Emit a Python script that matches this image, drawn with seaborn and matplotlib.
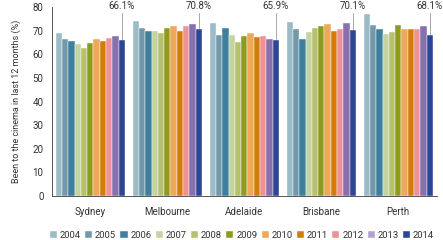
import pandas as pd
import matplotlib
matplotlib.use("Agg")
import matplotlib.pyplot as plt
import seaborn as sns

# data
cities = ["Sydney", "Melbourne", "Adelaide", "Brisbane", "Perth"]
years = ["2004", "2005", "2006", "2007", "2008", "2009", "2010", "2011", "2012", "2013", "2014"]
sydney = [69.0, 66.3, 65.8, 64.2, 62.6, 64.9, 66.4, 65.8, 66.8, 67.8, 66.1]
melbourne = [74.0, 71.0, 69.8, 70.0, 68.8, 71.2, 72.0, 70.0, 71.8, 72.8, 70.8]
adelaide = [73.2, 68.0, 71.2, 68.3, 65.0, 67.6, 68.8, 67.2, 67.8, 66.3, 65.9]
brisbane = [73.8, 70.6, 66.6, 69.4, 71.3, 71.9, 72.6, 69.8, 70.5, 73.4, 70.1]
perth = [77.0, 72.3, 70.6, 68.5, 69.3, 72.5, 70.5, 70.5, 70.5, 72.0, 68.1]
colors = ["#9bbcc6", "#7199ab", "#3e7f9e", "#c4d3a2", "#b7c06c", "#8e9b20",
          "#efa75a", "#d27c0e", "#ee9199", "#8670ae", "#2c4595"]
legend_2013 = "#b3a2cb"  # legend swatch for 2013 is lighter than its bars

rows = []
for city, vals in zip(cities, [sydney, melbourne, adelaide, brisbane, perth]):
    for yr, v in zip(years, vals):
        rows.append({"city": city, "year": yr, "pct": v})
df = pd.DataFrame(rows)

sns.set_theme(style="white")
plt.rcParams['font.family'] = ['Roboto', 'DejaVu Sans']

fig = plt.figure(figsize=(4.43, 2.40), dpi=100)
ax = fig.add_axes([0.117, 0.183, 0.869, 0.788])

sns.barplot(data=df, x="city", y="pct", hue="year", palette=colors,
            width=0.9, gap=0, dodge=True, errorbar=None, ax=ax,
            edgecolor="white", linewidth=0.3, saturation=1)

ax.set_ylim(0, 80)
ax.set_xlim(-0.5, 4.5)
ax.set_yticks(range(0, 81, 10))
ax.set_xlabel("")
ax.set_ylabel("Been to the cinema in last 12 months (%)", fontsize=6.5, color="#333333", labelpad=8)
ax.tick_params(axis="y", length=0, labelsize=7, labelcolor="#333333", pad=6)
ax.tick_params(axis="x", which="major", length=0, labelsize=7, labelcolor="#333333", pad=8)
ax.set_xticks([i - 0.5 for i in range(len(cities) + 1)], minor=True)
ax.tick_params(axis="x", which="minor", length=5, width=0.6, color="#777777")
for s in ["top", "right"]:
    ax.spines[s].set_visible(False)
for s in ["left", "bottom"]:
    ax.spines[s].set_color("#555555")
    ax.spines[s].set_linewidth(0.7)

# label the 2014 bar of each city
for p in ax.containers[-1]:
    xc = p.get_x() + p.get_width() / 2
    h = p.get_height()
    ax.plot([xc, xc], [h + 0.5, 77.5], color="#999999", lw=0.6, clip_on=False)
    ax.text(xc, 78.5, f"{h:.1f}%", ha="center", va="bottom", fontsize=7, color="#333333", clip_on=False)

leg = ax.legend(loc="upper center", bbox_to_anchor=(0.494, -0.16), ncol=11, frameon=False,
                fontsize=6.8, handlelength=0.75, handleheight=0.75, handletextpad=0.3,
                columnspacing=0.45, borderpad=0, labelcolor="#333333")
leg.legend_handles[years.index("2013")].set_facecolor(legend_2013)

fig.savefig("out.png", dpi=100)
